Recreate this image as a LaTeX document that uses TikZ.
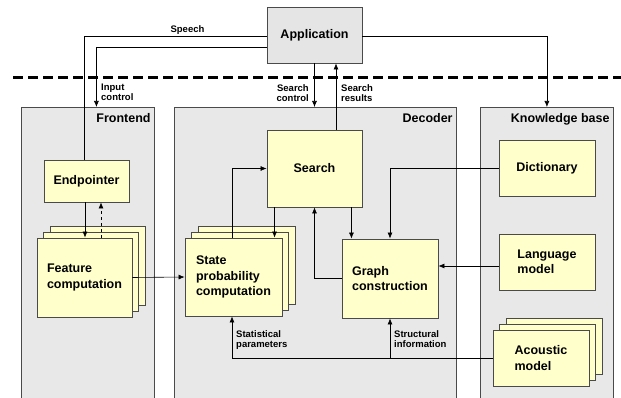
\documentclass[tikz,border=0pt]{standalone}
\usepackage{fontspec}
\setmainfont{Liberation Sans}
\usetikzlibrary{arrows.meta, positioning, calc}
\definecolor{box_yellow}{HTML}{FFFFCC}
\definecolor{panel_gray}{HTML}{E8E8E8}
\definecolor{line_gray}{HTML}{4A4A4A}
\tikzset{
  panel/.style={rectangle,draw=line_gray,fill=panel_gray,line width=.8pt,anchor=north west,inner sep=0},
  paneltitle/.style={anchor=north east,inner sep=0,font=\fontsize{12.5}{15}\selectfont\bfseries},
  module/.style={rectangle,draw=line_gray,fill=box_yellow,line width=.9pt,align=left,inner sep=0,
    font=\fontsize{12.5}{15.5}\selectfont\bfseries},
  app/.style={module,fill=black!10},
  note/.style={inner sep=0,font=\fontsize{9.5}{10}\selectfont\bfseries},
  relation/.style={-{Latex[length=6pt,width=5pt]},black,line width=.6pt},
  separator/.style={black,line width=3pt,dash pattern=on 10pt off 5pt},
}
\begin{document}
\begin{tikzpicture}[x=1pt,y=-1pt]
  \useasboundingbox (0,0) rectangle (621,398);
  \clip (0,0) rectangle (621,398);
  \coordinate (SEPL) at (13,78);
  \coordinate (SEPR) at (621,78);
  \draw[separator] (SEPL) -- (SEPR);

  \node[panel,minimum width=133pt,minimum height=300pt] (FRONTEND) at (21,107) {};
  \node[panel,minimum width=282pt,minimum height=300pt] (DECODER) at (174,107) {};
  \node[panel,minimum width=133pt,minimum height=300pt] (KB) at (480,107) {};
  \node[paneltitle] (FRONTENDT) at ([xshift=-4pt,yshift=-6pt]FRONTEND.north east) {Frontend};
  \node[paneltitle] (DECODERT) at ([xshift=-4pt,yshift=-6pt]DECODER.north east) {Decoder};
  \node[paneltitle] (KBT) at ([xshift=-4pt,yshift=-6pt]KB.north east) {Knowledge base};

  \node[app,minimum width=95pt,minimum height=56pt] (APP) at (314.5,35) {Application};
  \node[module,minimum width=85pt,minimum height=42pt] (ENDP) at (86.5,181) {Endpointer};
  % stacked modules: two copies behind each front box
  \node[module,minimum width=95pt,minimum height=79pt] (FEAT3) at (97.5,265.5) {};
  \node[module,minimum width=95pt,minimum height=79pt] (FEAT2) at (91,271.5) {};
  \node[module,minimum width=95pt,minimum height=79pt] (FEAT) at (84.5,277.5) {Feature\\computation};
  \node[module,minimum width=97pt,minimum height=78pt] (STATE3) at (246.5,265) {};
  \node[module,minimum width=97pt,minimum height=78pt] (STATE2) at (240,271) {};
  \node[module,minimum width=97pt,minimum height=78pt] (STATE) at (233.5,277) {State\\probability\\computation};
  \node[module,minimum width=96pt,minimum height=56pt] (ACOU3) at (554,346) {};
  \node[module,minimum width=96pt,minimum height=56pt] (ACOU2) at (547.5,352) {};
  \node[module,minimum width=96pt,minimum height=56pt] (ACOU) at (541,358) {Acoustic\\model};
  \node[module,minimum width=95pt,minimum height=77pt] (SEARCH) at (314.5,168.5) {Search};
  \node[module,minimum width=96pt,minimum height=79pt] (GRAPH) at (390,278.5) {Graph\\construction};
  \node[module,minimum width=96pt,minimum height=56pt] (DICT) at (547,168) {Dictionary};
  \node[module,minimum width=96pt,minimum height=56pt] (LANG) at (547,262) {Language\\model};

  \node[note,anchor=base] (SPEECHL) at (187.5,32.5) {Speech};
  \node[note,anchor=north west,align=left] (INPUTL) at (101,84) {Input\\control};
  \node[note,anchor=north east,align=right] (SCTRLL) at (309,84) {Search\\control};
  \node[note,anchor=north west,align=left] (SRESL) at (341,84) {Search\\results};
  \node[note,anchor=north west,align=left] (STATL) at (236,330) {Statistical\\parameters};
  \node[note,anchor=north west,align=left] (STRUCL) at (394,330) {Structural\\information};

  \draw[relation,-] ([yshift=-1pt]APP.west) -| ([xshift=-2.5pt]ENDP.north);
  \draw[relation] ([yshift=-12pt]APP.west) -| ([xshift=8.5pt]FRONTEND.north);
  \draw[relation] (APP.south) -- (APP.south |- DECODER.north);
  \draw[relation] ([xshift=21.5pt]SEARCH.north) -- ([xshift=21.5pt]SEARCH.north |- APP.south);
  \draw[relation] ([yshift=-1pt]APP.east) -| (KB.north);
  \draw[relation] ([xshift=-1.5pt]ENDP.south) -- ([xshift=-1.5pt]ENDP.south |- FEAT.north);
  \draw[relation,dashed] ([xshift=14.5pt]ENDP.south |- FEAT.north) -- ([xshift=14.5pt]ENDP.south);
  \draw[relation] (FEAT.east) -- (STATE.west);
  \draw[relation] ([xshift=-1.5pt]STATE.north) |- (SEARCH.west);
  \draw[relation] ([xshift=8pt]SEARCH.south west) -- ([xshift=8pt]SEARCH.south west |- STATE.north);
  \draw[relation] ([xshift=-11pt]SEARCH.south east) -- ([xshift=-11pt]SEARCH.south east |- GRAPH.north);
  \draw[relation] (GRAPH.west) -| (SEARCH.south);
  \draw[relation] (DICT.west) -| (GRAPH.north);
  \draw[relation] ([yshift=-4pt]LANG.west) -- ([yshift=-4pt]LANG.west -| GRAPH.east);
  \draw[relation] (ACOU.west) -| ([xshift=-1.5pt]STATE.south);
  \draw[relation] (ACOU.west -| GRAPH.south) -- (GRAPH.south);
\end{tikzpicture}
\end{document}
